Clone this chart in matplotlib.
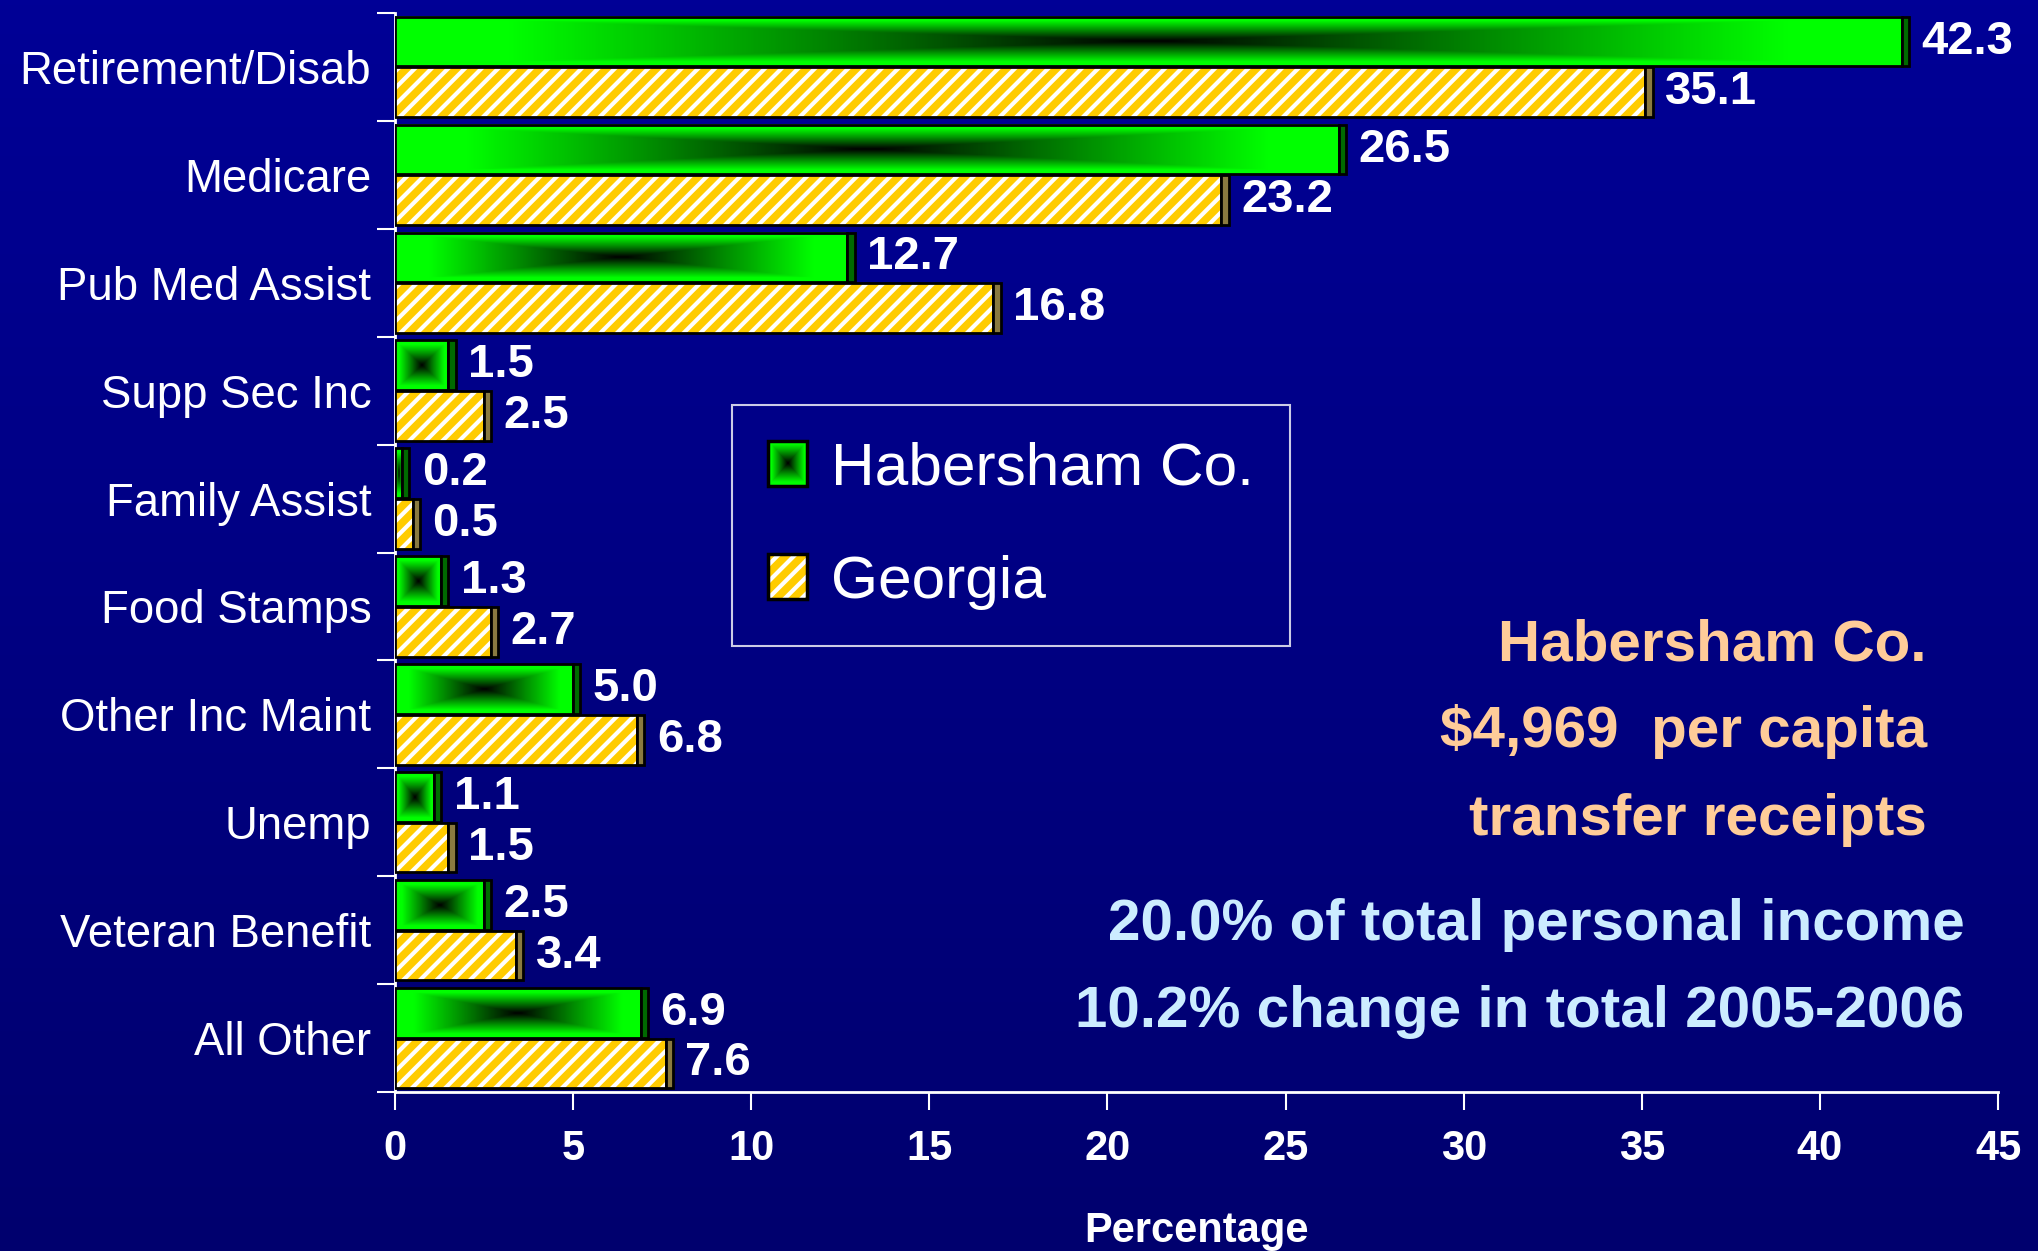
import numpy as np
import matplotlib
matplotlib.use("Agg")
import matplotlib.pyplot as plt
from matplotlib import font_manager
from matplotlib.colors import LinearSegmentedColormap, Normalize
from matplotlib.patches import Patch, Rectangle
from matplotlib.legend_handler import HandlerBase
from matplotlib.image import BboxImage
from matplotlib.transforms import Bbox, TransformedBbox

categories = ['Retirement/Disab', 'Medicare', 'Pub Med Assist', 'Supp Sec Inc',
              'Family Assist', 'Food Stamps', 'Other Inc Maint', 'Unemp',
              'Veteran Benefit', 'All Other']
habersham = [42.3, 26.5, 12.7, 1.5, 0.2, 1.3, 5.0, 1.1, 2.5, 6.9]
georgia = [35.1, 23.2, 16.8, 2.5, 0.5, 2.7, 6.8, 1.5, 3.4, 7.6]
xticks = [0, 5, 10, 15, 20, 25, 30, 35, 40, 45]

note_peach = ['Habersham Co.', '$4,969  per capita', 'transfer receipts']
note_blue = ['20.0% of total personal income', '10.2% change in total 2005-2006']

# fonts: condensed face for the category names / legend if we have it
names = {f.name for f in font_manager.fontManager.ttflist}
if 'Liberation Sans Narrow' in names:
    narrow, nscale = 'Liberation Sans Narrow', 1.0
else:
    narrow, nscale = 'Liberation Sans', 0.82
bold_font = 'Liberation Sans'

plt.rcParams['hatch.linewidth'] = 3.0

GREEN = '#00ff00'
GOLD = '#ffcc00'
green_cmap = LinearSegmentedColormap.from_list(
    'grn', [(0, 'black'), (0.45, '#008a00'), (0.85, GREEN), (1, GREEN)])


def rect_grad(nx, ny):
    u = np.abs(np.linspace(-1, 1, nx))
    v = np.abs(np.linspace(-1, 1, ny))
    return np.maximum(u[None, :], v[:, None])


fig = plt.figure(figsize=(20.38, 12.51), dpi=100)

# background gradient
bg = fig.add_axes([0, 0, 1, 1], zorder=-5)
bg_cmap = LinearSegmentedColormap.from_list('bg', ['#00006e', '#000096'])
bg.imshow(np.linspace(0, 1, 256)[:, None], aspect='auto', cmap=bg_cmap,
          origin='lower', extent=[0, 1, 0, 1])
bg.set_axis_off()

ax = fig.add_axes([0.1938, 0.1271, 0.7866, 0.8625])
ax.set_facecolor('none')

y = np.arange(len(categories))
h = 0.46
off = 0.235
depth = 0.2

# Habersham bars: path gradient, dark in the middle
g_bars = ax.barh(y - off, habersham, height=h, facecolor='none',
                 edgecolor='black', linewidth=2, zorder=4)
for r in g_bars:
    x0, y0, w, hh = r.get_x(), r.get_y(), r.get_width(), r.get_height()
    nx = max(int(w * 40), 10)
    ax.imshow(rect_grad(nx, 40), cmap=green_cmap, norm=Normalize(0, 1),
              extent=(x0, x0 + w, y0 + hh, y0), aspect='auto',
              interpolation='bilinear', zorder=3)
ax.barh(y - off, [depth] * len(y), left=habersham, height=h,
        color='#006a00', edgecolor='black', linewidth=2, zorder=4)

# Georgia bars: hatched gold
ax.barh(y + off, georgia, height=h, facecolor=GOLD, edgecolor='white',
        hatch='//', linewidth=0, zorder=3)
ax.barh(y + off, georgia, height=h, fill=False, edgecolor='black',
        linewidth=2, zorder=4)
ax.barh(y + off, [depth] * len(y), left=georgia, height=h,
        color='#8a7a40', edgecolor='black', linewidth=2, zorder=4)

for yy, v in zip(y, habersham):
    ax.annotate(f'{v:.1f}', (v + depth, yy - off), xytext=(9, 0),
                textcoords='offset points', va='center', ha='left',
                color='white', fontsize=34, fontweight='bold',
                family=bold_font, zorder=6)
for yy, v in zip(y, georgia):
    ax.annotate(f'{v:.1f}', (v + depth, yy + off), xytext=(9, 0),
                textcoords='offset points', va='center', ha='left',
                color='white', fontsize=34, fontweight='bold',
                family=bold_font, zorder=6)

ax.set_xlim(0, 45)
ax.set_ylim(len(categories) - 0.5, -0.5)
ax.set_xticks(xticks)
ax.set_xticklabels([str(t) for t in xticks], fontsize=30, fontweight='bold',
                   family=bold_font, color='white')
ax.set_yticks(y)
ax.set_yticklabels(categories, fontsize=40 * nscale, family=narrow,
                   color='white')
ax.set_yticks(np.arange(len(categories) + 1) - 0.5, minor=True)
ax.tick_params(axis='y', which='major', length=0, pad=17)
ax.tick_params(axis='y', which='minor', length=13, width=1.5, color='white')
ax.tick_params(axis='x', length=13, width=1.5, color='white', pad=14)
for s in ['top', 'right']:
    ax.spines[s].set_visible(False)
for s in ['left', 'bottom']:
    ax.spines[s].set_color('white')
    ax.spines[s].set_linewidth(2)
ax.set_xlabel('Percentage', fontsize=30, fontweight='bold', family=bold_font,
              color='white', labelpad=30)


class GreenHandler(HandlerBase):
    def legend_artist(self, legend, orig_handle, fontsize, handlebox):
        x0, y0 = -handlebox.xdescent, -handlebox.ydescent
        w, hh = handlebox.width, handlebox.height
        bb = TransformedBbox(Bbox.from_bounds(x0, y0, w, hh),
                             handlebox.get_transform())
        img = BboxImage(bb, cmap=green_cmap, norm=Normalize(0, 1),
                        interpolation='bilinear')
        img.set_data(rect_grad(40, 40))
        handlebox.add_artist(img)
        frame = Rectangle((x0, y0), w, hh, facecolor='none',
                          edgecolor='black', linewidth=2.5)
        handlebox.add_artist(frame)
        return frame


class GoldHandler(HandlerBase):
    def legend_artist(self, legend, orig_handle, fontsize, handlebox):
        x0, y0 = -handlebox.xdescent, -handlebox.ydescent
        w, hh = handlebox.width, handlebox.height
        fill = Rectangle((x0, y0), w, hh, facecolor=GOLD, edgecolor='white',
                         hatch='//', linewidth=0)
        handlebox.add_artist(fill)
        frame = Rectangle((x0, y0), w, hh, facecolor='none',
                          edgecolor='black', linewidth=2.5)
        handlebox.add_artist(frame)
        return frame


h_green = Patch(label='Habersham Co.')
h_gold = Patch(label='Georgia')
leg = ax.legend(handles=[h_green, h_gold],
                handler_map={h_green: GreenHandler(), h_gold: GoldHandler()},
                loc='upper left', bbox_to_anchor=(0.210, 0.637),
                borderaxespad=0, prop={'family': narrow, 'size': 53 * nscale},
                handlelength=0.65, handleheight=0.78, handletextpad=0.4,
                labelspacing=0.95, borderpad=0.6, fancybox=False,
                frameon=True, labelcolor='white')
leg.get_frame().set_facecolor('none')
leg.get_frame().set_edgecolor('white')
leg.get_frame().set_linewidth(1.5)

for txt, yy in zip(note_peach, [0.4724, 0.4029, 0.3325]):
    fig.text(0.9455, yy, txt, ha='right', va='baseline', color='#ffcc99',
             fontsize=42, fontweight='bold', family=bold_font)
for txt, yy in zip(note_blue, [0.2486, 0.1791]):
    fig.text(0.964, yy, txt, ha='right', va='baseline', color='#ccecff',
             fontsize=42, fontweight='bold', family=bold_font)

fig.savefig('out.png', dpi=100)
